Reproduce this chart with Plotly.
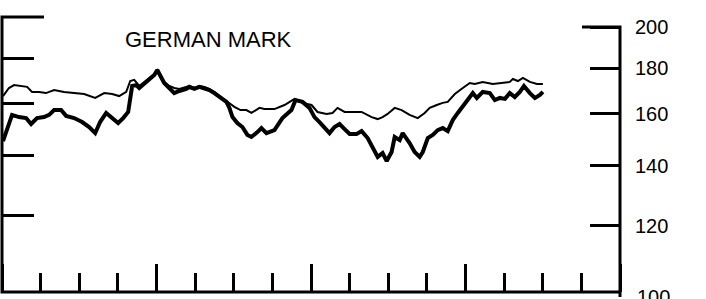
import plotly.graph_objects as go

# Months from start of the 4-year window (0-48); quarterly ticks, yearly long ticks
months_thin = [0.08, 0.54, 0.93, 1.32, 1.95, 2.33, 2.88, 3.42, 4.05, 4.82, 5.60, 6.38, 7.24, 7.94,
               8.56, 9.10, 9.65, 9.96, 10.27, 10.66, 11.05, 11.44, 11.83, 12.06, 12.37, 12.60,
               12.99, 13.38, 13.77, 14.32, 14.55, 14.94, 15.33, 15.72, 16.10, 16.49, 16.88,
               17.43, 18.05, 18.52, 18.98, 19.37, 20.00, 20.38, 21.16, 21.94, 22.72, 23.34,
               24.04, 24.51, 25.21, 25.67, 26.06, 26.61, 27.39, 27.93, 28.71, 29.18, 29.56,
               29.95, 30.50, 31.04, 31.66, 32.29, 32.83, 33.22, 33.77, 34.23, 34.62, 35.17,
               35.79, 36.33, 36.72, 37.34, 38.12, 38.67, 39.44, 39.68, 40.07, 40.46, 41.00,
               41.55, 42.01]
values_thin = [167.5, 171.0, 172.3, 171.9, 171.5, 169.3, 169.3, 168.8, 170.1, 169.3, 168.8, 168.4,
               166.7, 168.8, 168.4, 167.5, 169.3, 174.1, 174.6, 171.9, 173.7, 175.5, 177.2, 179.1,
               175.9, 173.7, 171.9, 171.0, 170.6, 171.5, 171.9, 171.0, 171.9, 171.5, 170.6, 169.3,
               167.5, 165.4, 162.9, 161.6, 161.6, 160.4, 162.5, 162.0, 162.0, 163.7, 166.3, 164.6,
               163.7, 160.8, 160.0, 160.4, 162.5, 160.8, 160.8, 160.8, 158.7, 157.9, 158.7, 160.0,
               162.5, 161.6, 159.6, 158.3, 160.4, 162.5, 163.7, 164.6, 165.0, 168.4, 171.0, 173.2,
               172.8, 173.7, 172.8, 173.2, 173.7, 175.0, 174.1, 175.5, 173.7, 172.8, 172.8]

months_thick = [0.08, 0.39, 0.78, 1.32, 1.87, 2.26, 2.72, 3.27, 3.66, 4.05, 4.59, 4.98, 5.60, 6.22,
                6.77, 7.24, 7.62, 8.09, 8.56, 9.02, 9.41, 9.80, 10.11, 10.43, 10.66, 11.05, 11.44,
                11.83, 12.06, 12.37, 12.60, 12.99, 13.38, 13.77, 14.32, 14.55, 14.94, 15.33,
                15.72, 16.10, 16.49, 16.88, 17.43, 17.66, 17.90, 18.28, 18.67, 19.06, 19.37,
                19.84, 20.15, 20.54, 21.16, 21.78, 22.17, 22.48, 22.80, 23.34, 23.88, 24.27,
                24.66, 25.05, 25.44, 25.83, 26.22, 26.61, 27.00, 27.54, 27.93, 28.40, 28.79,
                29.18, 29.56, 29.88, 30.26, 30.50, 30.89, 31.12, 31.66, 32.05, 32.44, 32.68,
                33.07, 33.46, 33.84, 34.23, 34.62, 35.01, 35.40, 35.95, 36.33, 36.57, 36.88,
                37.34, 37.89, 38.28, 38.67, 39.06, 39.44, 39.83, 40.22, 40.54, 41.00, 41.39,
                41.78, 42.01]
values_thick = [149.2, 154.3, 159.6, 158.7, 158.3, 155.9, 158.3, 158.7, 159.6, 161.6, 161.6, 159.2,
                158.3, 156.7, 154.7, 152.3, 156.7, 160.4, 158.3, 156.3, 158.3, 160.8, 171.9, 172.3,
                171.0, 172.8, 175.0, 176.8, 179.1, 175.5, 173.2, 171.0, 168.8, 169.7, 170.6, 171.5,
                170.6, 171.5, 171.0, 170.1, 168.8, 167.1, 165.0, 162.5, 158.7, 156.3, 154.7, 151.6,
                150.8, 152.7, 154.3, 152.3, 153.5, 158.3, 160.0, 161.6, 165.8, 165.0, 162.5, 158.7,
                156.7, 154.3, 152.3, 154.7, 155.9, 153.9, 152.0, 152.0, 153.1, 150.4, 146.6, 143.3,
                144.7, 141.8, 145.1, 150.8, 149.6, 152.3, 148.5, 145.1, 143.3, 145.1, 150.4, 151.6,
                153.5, 154.3, 153.1, 157.5, 160.4, 164.6, 167.1, 168.8, 166.7, 169.3, 168.8, 165.8,
                166.7, 166.3, 168.8, 167.1, 169.3, 171.9, 168.8, 166.7, 168.0, 169.3]

right_ticks = [120, 140, 160, 180, 200]
right_labels = ["120", "140", "160", "180", "200"]
left_ticks = [120, 140, 160, 180]

# chart frame (axis lines with the long top ticks), in axis units
frame_left_x = [3.26, 0, 0, 48]
frame_left_y = [200, 200, 98.72, 98.72]
frame_right_x = [45.05, 48, 48]
frame_right_y = [200, 200, 100]

title_text = "GERMAN MARK"
FONT = "Liberation Sans, Arial, Helvetica, sans-serif"

fig = go.Figure()
fig.add_trace(go.Scatter(x=[24], y=[150], xaxis="x2", yaxis="y", mode="markers",
                         marker=dict(size=1, opacity=0), showlegend=False, hoverinfo="skip"))
fig.add_trace(go.Scatter(x=frame_left_x, y=frame_left_y, xaxis="x", yaxis="y", mode="lines",
                         line=dict(color="black", width=3), showlegend=False, hoverinfo="skip"))
fig.add_trace(go.Scatter(x=frame_right_x, y=frame_right_y, xaxis="x", yaxis="y2", mode="lines",
                         line=dict(color="black", width=3), showlegend=False, hoverinfo="skip"))
fig.add_trace(go.Scatter(x=months_thin, y=values_thin, xaxis="x", yaxis="y2", mode="lines",
                         line=dict(color="black", width=2), showlegend=False))
fig.add_trace(go.Scatter(x=months_thick, y=values_thick, xaxis="x", yaxis="y2", mode="lines",
                         line=dict(color="black", width=4), showlegend=False))

XR = [-0.1553, 48.1553]
fig.update_layout(
    width=706, height=299,
    margin=dict(l=0, r=84, t=15, b=0),
    paper_bgcolor="white", plot_bgcolor="white",
    hovermode=False,
    font=dict(family=FONT, color="black", size=20),
    xaxis=dict(domain=[0, 1], anchor="free", position=7 / 284, range=XR, showgrid=False,
               zeroline=False, showline=False, ticks="inside", tickmode="linear", tick0=0,
               dtick=3, ticklen=19, tickwidth=3, tickcolor="black", showticklabels=False),
    xaxis2=dict(overlaying="x", anchor="free", position=7 / 284, range=XR, showgrid=False,
                zeroline=False, showline=False, ticks="inside", tickmode="linear", tick0=0,
                dtick=12, ticklen=28, tickwidth=3, tickcolor="black", showticklabels=False,
                side="bottom"),
    yaxis=dict(domain=[0, 1], anchor="free", position=2 / 622, type="log",
               range=[1.98662, 2.30326], showgrid=False, zeroline=False, showline=False,
               ticks="inside", tickmode="array", tickvals=left_ticks, ticklen=31, tickwidth=3,
               tickcolor="black", showticklabels=False),
    yaxis2=dict(overlaying="y", anchor="free", position=620 / 622, side="right", type="log",
                range=[1.99777, 2.31441], showgrid=False, zeroline=False, showline=False,
                ticks="inside", tickmode="array", tickvals=right_ticks, ticktext=right_labels,
                ticklen=30, tickwidth=3, tickcolor="black", ticklabelstandoff=14,
                tickfont=dict(family=FONT, size=20, color="black")),
    annotations=[
        dict(text=title_text, xref="paper", yref="paper", x=209 / 622, y=(299 - 39) / 284,
             xanchor="center", yanchor="middle", showarrow=False,
             font=dict(family=FONT, size=22, color="black")),
        dict(text="100", xref="paper", yref="paper", x=620 / 622, y=2 / 284, xanchor="left",
             yanchor="middle", xshift=15, showarrow=False,
             font=dict(family=FONT, size=20, color="black")),
        dict(text="30", xref="paper", yref="paper", x=620 / 622, y=(299 - 5) / 284,
             xanchor="left", yanchor="bottom", xshift=15, showarrow=False,
             font=dict(family=FONT, size=20, color="black")),
    ],
)

fig.write_html("out.html", config={"displayModeBar": False, "displaylogo": False},
               post_script="document.body.style.margin='0px';")
